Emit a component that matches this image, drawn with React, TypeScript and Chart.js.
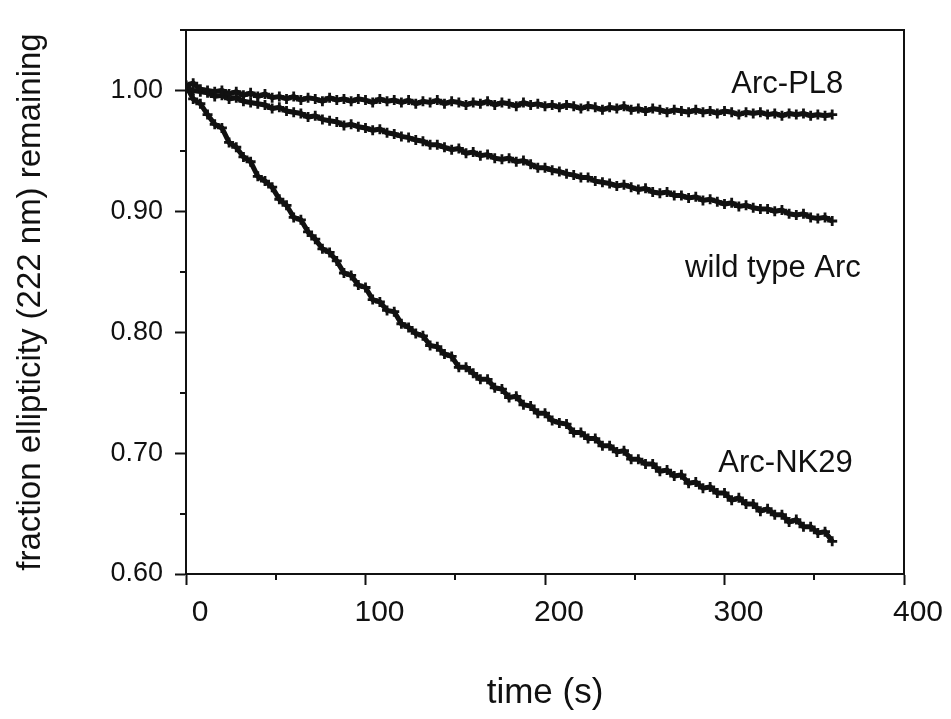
import React, { useEffect, useRef } from "react";
import { Chart, registerables } from "chart.js";

Chart.register(...registerables);

// time (s)
const times = [
  0, 4, 8, 12, 16, 20, 24, 28, 32, 36,
  40, 44, 48, 52, 56, 60, 64, 68, 72, 76,
  80, 84, 88, 92, 96, 100, 104, 108, 112, 116,
  120, 124, 128, 132, 136, 140, 144, 148, 152, 156,
  160, 164, 168, 172, 176, 180, 184, 188, 192, 196,
  200, 204, 208, 212, 216, 220, 224, 228, 232, 236,
  240, 244, 248, 252, 256, 260, 264, 268, 272, 276,
  280, 284, 288, 292, 296, 300, 304, 308, 312, 316,
  320, 324, 328, 332, 336, 340, 344, 348, 352, 356,
  360,
];

// Arc-PL8
const arcPL8 = [
  1.004, 1.006, 1.001, 1.000, 0.999, 1.000, 0.997, 0.999, 0.996, 0.998,
  0.995, 0.997, 0.994, 0.995, 0.993, 0.995, 0.992, 0.994, 0.993, 0.991,
  0.994, 0.992, 0.993, 0.991, 0.993, 0.992, 0.990, 0.993, 0.991, 0.992,
  0.990, 0.992, 0.989, 0.991, 0.990, 0.992, 0.989, 0.991, 0.990, 0.988,
  0.990, 0.989, 0.991, 0.988, 0.990, 0.989, 0.987, 0.990, 0.988, 0.989,
  0.987, 0.988, 0.986, 0.988, 0.987, 0.985, 0.987, 0.986, 0.984, 0.986,
  0.985, 0.987, 0.984, 0.985, 0.983, 0.985, 0.984, 0.982, 0.984, 0.983,
  0.982, 0.984, 0.982, 0.983, 0.981, 0.983, 0.982, 0.980, 0.982, 0.981,
  0.982, 0.980, 0.981, 0.979, 0.981, 0.980, 0.981, 0.979, 0.980, 0.979,
  0.980,
];

// wild type Arc
const wildType = [
  1.002, 1.000, 0.999, 0.998, 0.995, 0.996, 0.993, 0.994, 0.991, 0.990,
  0.989, 0.988, 0.985, 0.986, 0.983, 0.982, 0.981, 0.978, 0.979, 0.976,
  0.975, 0.974, 0.971, 0.972, 0.970, 0.969, 0.967, 0.968, 0.965, 0.964,
  0.962, 0.961, 0.959, 0.958, 0.955, 0.955, 0.953, 0.951, 0.952, 0.948,
  0.949, 0.946, 0.947, 0.944, 0.943, 0.944, 0.941, 0.942, 0.939, 0.936,
  0.936, 0.934, 0.933, 0.931, 0.930, 0.928, 0.928, 0.925, 0.924, 0.923,
  0.921, 0.922, 0.920, 0.918, 0.919, 0.916, 0.915, 0.916, 0.913, 0.913,
  0.911, 0.912, 0.909, 0.910, 0.908, 0.906, 0.907, 0.904, 0.905, 0.903,
  0.902, 0.902, 0.900, 0.901, 0.898, 0.897, 0.898, 0.895, 0.894, 0.895,
  0.892,
];

// Arc-NK29
const arcNK29 = [
  1.004, 0.993, 0.989, 0.980, 0.972, 0.969, 0.957, 0.953, 0.945, 0.941,
  0.929, 0.925, 0.920, 0.910, 0.905, 0.895, 0.893, 0.883, 0.877, 0.869,
  0.866, 0.859, 0.849, 0.847, 0.839, 0.837, 0.827, 0.825, 0.818, 0.817,
  0.807, 0.804, 0.799, 0.797, 0.789, 0.788, 0.782, 0.780, 0.771, 0.771,
  0.766, 0.761, 0.761, 0.754, 0.753, 0.746, 0.747, 0.740, 0.739, 0.733,
  0.733, 0.727, 0.725, 0.724, 0.717, 0.717, 0.712, 0.712, 0.706, 0.706,
  0.701, 0.702, 0.695, 0.695, 0.691, 0.691, 0.685, 0.686, 0.681, 0.682,
  0.675, 0.676, 0.671, 0.672, 0.667, 0.667, 0.661, 0.663, 0.658, 0.658,
  0.652, 0.654, 0.649, 0.649, 0.643, 0.645, 0.639, 0.639, 0.634, 0.635,
  0.627,
];

// axis ticks
const xMajorTicks = [0, 100, 200, 300, 400];
const xMinorTicks = [50, 150, 250, 350];
const yMajorTicks = [0.6, 0.7, 0.8, 0.9, 1.0];
const yMinorTicks = [0.65, 0.75, 0.85, 0.95, 1.05];

// in-plot series labels (data coordinates)
const seriesLabels = ["Arc-PL8", "wild type Arc", "Arc-NK29"];
const seriesLabelX = [335, 327, 334];
const seriesLabelY = [0.998, 0.846, 0.684];

const INK = "#111";
const FONT = "'Liberation Sans', Arial, Helvetica, sans-serif";

const framePlugin = {
  id: "frameAndNotes",
  afterDraw(chart: any) {
    const { ctx, chartArea: a, scales } = chart;
    ctx.save();
    ctx.strokeStyle = INK;
    ctx.lineWidth = 2;
    ctx.strokeRect(a.left, a.top, a.right - a.left, a.bottom - a.top);
    ctx.beginPath();
    for (const v of xMinorTicks) {
      const px = Math.round(scales.x.getPixelForValue(v));
      ctx.moveTo(px, a.bottom);
      ctx.lineTo(px, a.bottom + 6);
    }
    for (const v of yMinorTicks) {
      const py = Math.round(scales.y.getPixelForValue(v));
      ctx.moveTo(a.left - 6, py);
      ctx.lineTo(a.left, py);
    }
    ctx.stroke();
    ctx.fillStyle = INK;
    ctx.font = `31px ${FONT}`;
    ctx.textAlign = "center";
    ctx.textBaseline = "alphabetic";
    seriesLabels.forEach((t, i) => {
      ctx.fillText(
        t,
        scales.x.getPixelForValue(seriesLabelX[i]),
        scales.y.getPixelForValue(seriesLabelY[i])
      );
    });
    ctx.restore();
  },
};

function makeSeries(vals: number[]) {
  return times.map((t, i) => ({ x: t, y: vals[i] }));
}

export default function App() {
  const ref = useRef<HTMLCanvasElement | null>(null);
  useEffect(() => {
    if (!ref.current) return;
    const common = {
      showLine: true,
      borderColor: INK,
      borderWidth: 5,
      pointStyle: "cross",
      pointRadius: 5,
      pointBorderWidth: 2.8,
      pointBorderColor: INK,
      pointBackgroundColor: INK,
      tension: 0,
    };
    const chart = new Chart(ref.current, {
      type: "scatter",
      data: {
        datasets: [
          { label: "Arc-PL8", data: makeSeries(arcPL8), ...common },
          { label: "wild type Arc", data: makeSeries(wildType), ...common },
          { label: "Arc-NK29", data: makeSeries(arcNK29), ...common },
        ] as any,
      },
      options: {
        responsive: false,
        animation: false,
        devicePixelRatio: 1,
        layout: { padding: { left: 0, top: 30, right: 47, bottom: 0 } },
        plugins: {
          legend: { display: false },
          tooltip: { enabled: false },
        },
        scales: {
          x: {
            type: "linear",
            min: 0,
            max: 400,
            afterBuildTicks: (s: any) => {
              s.ticks = xMajorTicks.map((v) => ({ value: v }));
            },
            afterFit: (s: any) => {
              s.height = 145;
            },
            ticks: {
              color: INK,
              font: { family: FONT, size: 30 },
              padding: 10,
              labelOffset: 14,
              maxRotation: 0,
              callback: (v: any) => String(v),
            },
            grid: {
              display: true,
              drawOnChartArea: false,
              drawTicks: true,
              tickLength: 11,
              tickWidth: 2,
              tickColor: INK,
            },
            border: { display: true, color: INK, width: 2 },
            title: {
              display: true,
              text: "time (s)",
              color: INK,
              font: { family: FONT, size: 35 },
              padding: { top: 0, bottom: 5 },
            },
          },
          y: {
            type: "linear",
            min: 0.6,
            max: 1.05,
            afterBuildTicks: (s: any) => {
              s.ticks = yMajorTicks.map((v) => ({ value: v }));
            },
            afterFit: (s: any) => {
              s.width = 186;
            },
            ticks: {
              color: INK,
              font: { family: FONT, size: 27 },
              padding: 12,
              callback: (v: any) => Number(v).toFixed(2),
            },
            grid: {
              display: true,
              drawOnChartArea: false,
              drawTicks: true,
              tickLength: 11,
              tickWidth: 2,
              tickColor: INK,
            },
            border: { display: true, color: INK, width: 2 },
            title: {
              display: true,
              text: "fraction ellipticity (222 nm) remaining",
              color: INK,
              font: { family: FONT, size: 33 },
              padding: { top: 11, bottom: 0 },
            },
          },
        },
      } as any,
      plugins: [framePlugin],
    });
    return () => chart.destroy();
  }, []);
  return (
    <div style={{ position: "fixed", left: 0, top: 0, width: 951, height: 719, background: "#fff" }}>
      <canvas ref={ref} width={951} height={719} style={{ display: "block" }} />
    </div>
  );
}
